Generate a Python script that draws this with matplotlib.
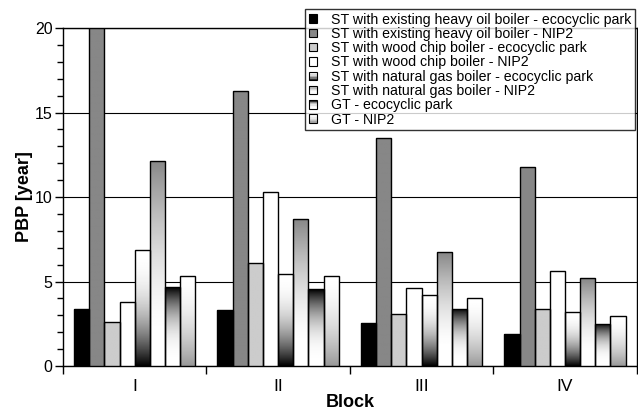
import numpy as np
import matplotlib
matplotlib.use("Agg")
import matplotlib.pyplot as plt
from matplotlib.patches import Rectangle
from matplotlib.legend_handler import HandlerBase

plt.rcParams['font.family'] = ['Liberation Sans', 'DejaVu Sans']

blocks = ["I", "II", "III", "IV"]
series_names = [
    "ST with existing heavy oil boiler - ecocyclic park",
    "ST with existing heavy oil boiler - NIP2",
    "ST with wood chip boiler - ecocyclic park",
    "ST with wood chip boiler - NIP2",
    "ST with natural gas boiler - ecocyclic park",
    "ST with natural gas boiler - NIP2",
    "GT - ecocyclic park",
    "GT - NIP2",
]
oil_eco = [3.4, 3.3, 2.55, 1.9]
oil_nip2 = [20.0, 16.3, 13.5, 11.8]
wood_eco = [2.6, 6.1, 3.05, 3.4]
wood_nip2 = [3.8, 10.3, 4.63, 5.6]
gas_eco = [6.85, 5.45, 4.22, 3.22]
gas_nip2 = [12.15, 8.7, 6.72, 5.2]
gt_eco = [4.65, 4.53, 3.4, 2.5]
gt_nip2 = [5.32, 5.35, 4.02, 2.94]
values = [oil_eco, oil_nip2, wood_eco, wood_nip2, gas_eco, gas_nip2, gt_eco, gt_nip2]

# fill styles: solid gray level, or gradient function t(0 top ->1 bottom) -> gray level
def g_solid(v):
    return lambda t: np.full_like(t, v)
fills = [
    g_solid(0.0),
    g_solid(0.53),
    g_solid(0.80),
    g_solid(1.0),
    lambda t: 1.0 - t ** 2.2,
    lambda t: 1.0 - 0.47 * np.clip(1 - t / 0.85, 0, 1) ** 1.6,
    lambda t: 1.0 - (1 - t) ** 2.6,
    lambda t: 1.0 - 0.40 * t ** 1.8,
]

def grad_img(f, n=200):
    t = np.linspace(0, 1, n)
    v = np.clip(f(t), 0, 1)
    return np.repeat(v[:, None], 2, axis=1)

fig = plt.figure(figsize=(6.38, 4.13), dpi=100)
ax = fig.add_axes([0.0987, 0.1138, 0.8993, 0.8182])

n = len(values)
width = 0.1057
x = np.arange(len(blocks))
for i, vals in enumerate(values):
    offs = (i - (n - 1) / 2) * width
    bars = ax.bar(x + offs, vals, width, facecolor='none', edgecolor='black',
                  linewidth=1.0, zorder=4)
    img = grad_img(fills[i])
    for b in bars:
        x0, y0 = b.get_x(), b.get_y()
        w, h = b.get_width(), b.get_height()
        im = ax.imshow(img, cmap='gray', vmin=0, vmax=1, extent=(x0, x0 + w, y0, y0 + h),
                       aspect='auto', origin='upper', zorder=3, interpolation='bilinear')
        im.set_clip_path(b)

ax.set_xlim(-0.5, 3.5)
ax.set_ylim(0, 20)
ax.set_aspect('auto')
ax.set_yticks([0, 5, 10, 15, 20])
ax.set_yticks(np.arange(0, 21, 1), minor=True)
ax.set_xticks(x)
ax.set_xticklabels(blocks)
ax.set_xticks(np.arange(-0.5, 4.0, 1.0), minor=True)
ax.tick_params(axis='x', which='major', length=0, labelsize=12.5, pad=9)
ax.tick_params(axis='x', which='minor', length=5.5, width=1, direction='out')
ax.tick_params(axis='y', which='major', length=6, width=1, labelsize=11.5, pad=1.5)
ax.tick_params(axis='y', which='minor', length=4, width=1)
ax.yaxis.grid(True, which='major', color='black', linewidth=0.8, zorder=1)
ax.set_axisbelow(True)
for s in ax.spines.values():
    s.set_linewidth(1.0)
ax.set_ylabel("PBP [year]", fontsize=13, fontweight='bold', labelpad=1)
ax.set_xlabel("Block", fontsize=13, fontweight='bold', labelpad=0)


class GradHandler(HandlerBase):
    def __init__(self, f):
        super().__init__()
        self.f = f

    def create_artists(self, legend, orig_handle, xdescent, ydescent, width, height, fontsize, trans):
        arts = []
        k = 6
        side = min(width, height)
        x0 = -xdescent + (width - side) / 2
        y0 = -ydescent + (height - side) / 2
        for j in range(k):
            t = (j + 0.5) / k
            v = float(np.clip(self.f(np.array([t]))[0], 0, 1))
            r = Rectangle((x0, y0 + side * (1 - (j + 1) / k)), side, side / k,
                          facecolor=(v, v, v), edgecolor='none', transform=trans)
            arts.append(r)
        arts.append(Rectangle((x0, y0), side, side, facecolor='none', edgecolor='black',
                              linewidth=0.8, transform=trans))
        return arts

handles = [Rectangle((0, 0), 1, 1) for _ in series_names]
hmap = {h: GradHandler(fills[i]) for i, h in enumerate(handles)}
leg = fig.legend(handles, series_names, handler_map=hmap, loc='upper left',
                 bbox_to_anchor=(0.478, 0.978), fontsize=10.2, frameon=True, fancybox=False,
                 handlelength=0.6, handleheight=0.6, handletextpad=1.0, labelspacing=0.02,
                 borderpad=0.25, borderaxespad=0)
leg.get_frame().set_edgecolor('black')
leg.get_frame().set_linewidth(1.0)

fig.savefig("out.png", dpi=100)
